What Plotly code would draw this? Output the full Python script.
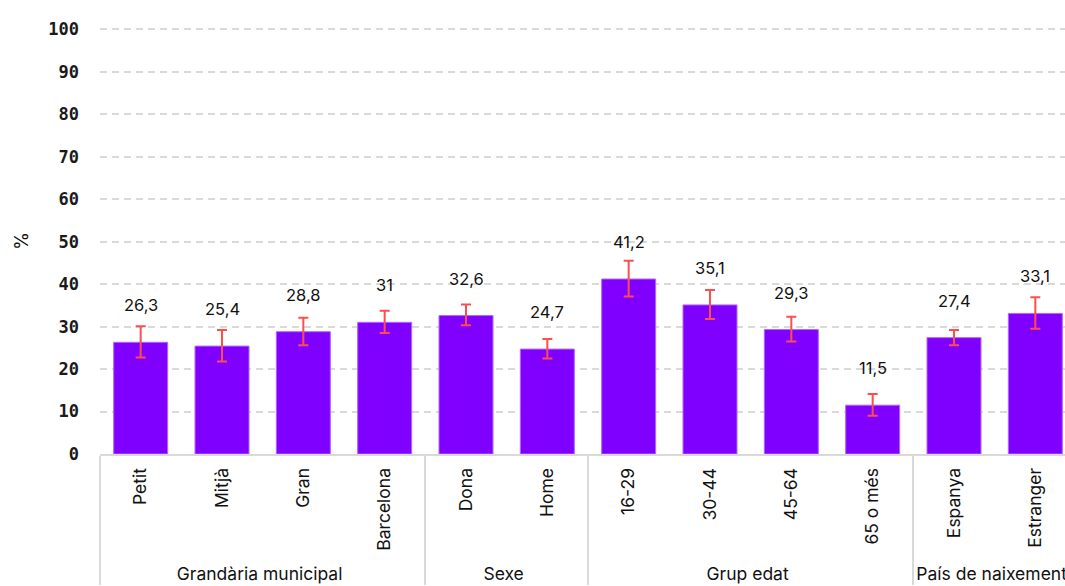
import plotly.graph_objects as go

groups = ["Grandària municipal"] * 4 + ["Sexe"] * 2 + ["Grup edat"] * 4 + ["País de naixement"] * 2
categories = ["Petit", "Mitjà", "Gran", "Barcelona", "Dona", "Home",
              "16-29", "30-44", "45-64", "65 o més", "Espanya", "Estranger"]
values = [26.3, 25.4, 28.8, 31, 32.6, 24.7, 41.2, 35.1, 29.3, 11.5, 27.4, 33.1]
err_plus = [3.8, 3.8, 3.3, 2.7, 2.6, 2.4, 4.3, 3.5, 3.0, 2.6, 1.8, 3.8]
err_minus = [3.6, 3.6, 3.2, 2.5, 2.3, 2.2, 4.1, 3.3, 2.8, 2.5, 1.8, 3.6]
y_ticks = [0, 10, 20, 30, 40, 50, 60, 70, 80, 90, 100]

TEXT_FONT = "Inter"

fig = go.Figure()
fig.add_trace(go.Bar(
    x=[groups, categories],
    y=values,
    marker=dict(color="#8000ff", line=dict(color="#b066ff", width=1)),
    error_y=dict(type="data", symmetric=False, array=err_plus, arrayminus=err_minus,
                 color="#ff4d4d", thickness=2, width=5),
    hoverinfo="skip",
))

for i, v in enumerate(values):
    fig.add_annotation(
        x=i, y=v, xref="x", yref="y",
        text=f"{v:g}".replace(".", ","),
        showarrow=False, yanchor="middle", yshift=37,
        font=dict(family=TEXT_FONT, size=16.5, color="#111111"),
    )

fig.update_layout(
    width=1100, height=586,
    margin=dict(l=100, r=24, t=28, b=132),
    plot_bgcolor="white", paper_bgcolor="white",
    bargap=0.336,
    showlegend=False,
    font=dict(family=TEXT_FONT, size=17, color="#111111"),
)
fig.update_xaxes(
    type="multicategory",
    tickangle=-90,
    tickfont=dict(family=TEXT_FONT, size=17.5, color="#111111"),
    showline=True, linecolor="#d9d9d9", linewidth=2,
    showdividers=True, dividercolor="#d9d9d9", dividerwidth=2,
    showgrid=False, ticks="", ticklabelstandoff=5,
    automargin=False,
)
fig.update_yaxes(
    range=[0, 100.3],
    tickvals=y_ticks,
    ticktext=[str(t) for t in y_ticks],
    tickfont=dict(family="DejaVu Sans Mono", size=17, color="#1a1a1a", weight="bold"),
    ticklabelstandoff=20,
    showgrid=True, gridcolor="#d9d9d9", gridwidth=1.5, griddash="7px,5px",
    zeroline=False, showline=False,
    title=dict(text="%", font=dict(family=TEXT_FONT, size=18, color="#111111"), standoff=14),
    automargin=False,
)

fig.write_html(
    "out.html",
    config={"displayModeBar": False},
    post_script="document.body.style.margin='0';document.body.style.overflow='hidden';document.documentElement.style.overflow='hidden';",
)
